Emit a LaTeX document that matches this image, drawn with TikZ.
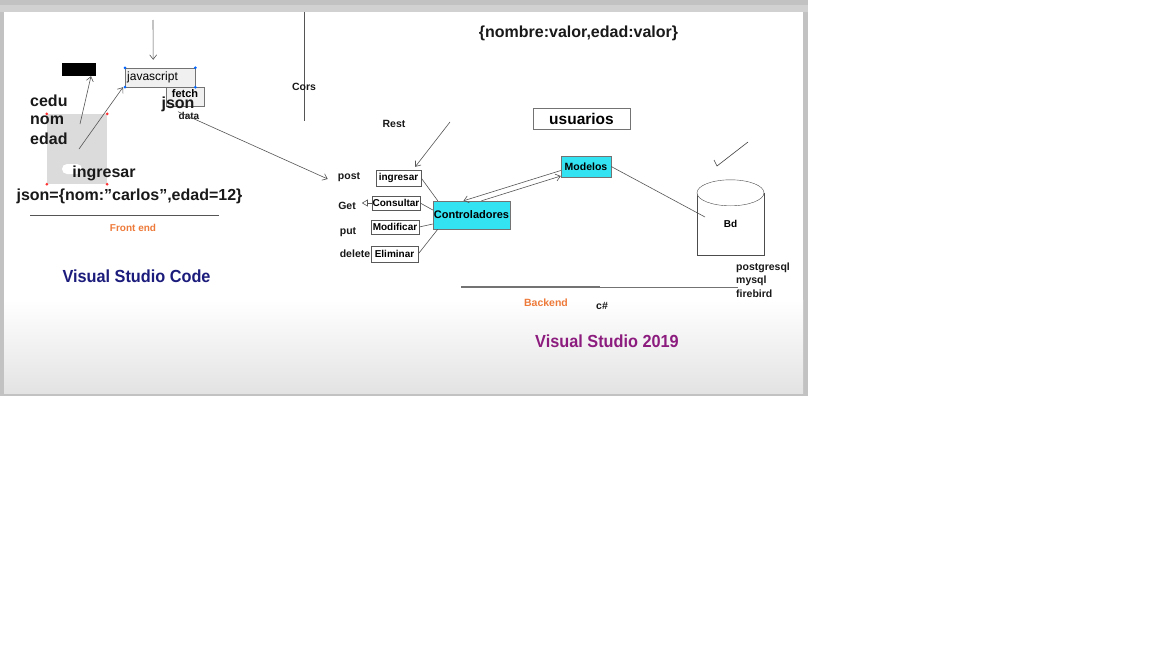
\documentclass[tikz,border=0pt]{standalone}
\usepackage{fontspec}
\setmainfont{Liberation Sans}
\newfontfamily\narrowfont[FakeStretch=0.93]{Liberation Sans}
\usetikzlibrary{positioning,arrows.meta}
\definecolor{boxcyan}{HTML}{33E3F2}
\definecolor{feorange}{HTML}{EE7A3A}
\definecolor{vsblue}{HTML}{1C1C7C}
\definecolor{vspurple}{HTML}{8C1C7E}
\definecolor{inkgray}{HTML}{555555}

\begin{document}
\begin{tikzpicture}[x=1pt,y=-1pt, >={Straight Barb[length=4.5pt, width=7pt]},
	big/.style={font=\bfseries\fontsize{16}{16}\selectfont, text=black!90, inner sep=0pt},
	lbl/.style={font=\bfseries\fontsize{10.5}{11}\selectfont, text=black!90, inner sep=0pt},
	epnode/.style={rectangle, draw=black!65, fill=white, font=\bfseries\fontsize{10}{10}\selectfont, inner sep=0.5pt, minimum height=15},
	cynode/.style={rectangle, draw=black!55, fill=boxcyan, inner sep=0.5pt},
	gbnode/.style={rectangle, draw=black!55, fill=black!6, inner sep=1.5pt},
	link/.style={draw=inkgray, line width=0.6pt},
	dot/.style={circle, fill=#1, inner sep=0pt, minimum size=3pt}]
	\useasboundingbox (0,0) rectangle (1152,648);
	\fill[white] (0,0) rectangle (1152,648);
	\fill[black!24] (0,0) rectangle (808,396);
	\fill[black!18] (0,5) rectangle (808,12);
	\fill[white] (4,12) rectangle (803,300);
	\shade[top color=white, bottom color=black!11] (4,300) rectangle (803,393);

	\node[rectangle, fill=black!14, minimum width=60, minimum height=70] (gbox) at (77,149) {};
	\node[rectangle, fill=white, rounded corners=5pt, minimum width=20, minimum height=10] (pill) at (72,169) {};
	\foreach \c in {north west, north east, south west, south east}
		\node[dot=red!80] at (gbox.\c) {};
	\node[rectangle, fill=black, minimum width=34, minimum height=13, inner sep=0pt] (blk) at (79,69.5) {};
	\node[big, anchor=west] (cedu) at (30,101) {cedu};
	\node[big, anchor=west] (nom) at (30,120) {nom};
	\node[big, anchor=west] (edad) at (30,139) {edad};
	\node[big] (ingresar) at (104,173) {ingresar};
	\node[big] (jsonval) at (129.5,196) {json=\{nom:”carlos”,edad=12\}};
	\node[lbl, text=feorange, font=\bfseries\fontsize{10}{10}\selectfont] (front) at (133,228) {Front end};
	\node[font=\narrowfont\bfseries\fontsize{17.5}{18}\selectfont, text=vsblue] (vscode) at (136.5,276) {Visual Studio Code};
	\draw[inkgray, line width=0.7pt] (30,215) -- (219,215);

	\node[gbnode, minimum width=38, minimum height=19, font=\bfseries\fontsize{11}{11}\selectfont, text depth=6pt] (fetch) at (185,96.5) {fetch};
	\node[gbnode, anchor=west, text width=66, minimum height=19, font=\fontsize{12}{12}\selectfont, inner sep=2pt] (js) at (125,77.5) {javascript};
	\foreach \c in {north west, north east, south west, south east}
		\node[dot=blue!60!cyan] at (js.\c) {};
	\node[big] (json) at (178,104) {json};
	\node[lbl, font=\bfseries\fontsize{10}{10}\selectfont] (data) at (189,116) {data};

	\coordinate (top) at (153,20);
	\coordinate (c1) at (80,124);
	\coordinate (c2) at (79,149);
	\draw[link, ->] (top) -- ([xshift=-7, yshift=8]js.north);
	\draw[link, ->] (c1) -- ([xshift=12]blk.south);
	\draw[link, ->] (c2) -- ([xshift=-2]js.south west);

	\draw[inkgray, line width=0.7pt] (304,12) -- (304,121);
	\node[lbl] (cors) at (304,87) {Cors};
	\node[lbl] (rest) at (394,124) {Rest};
	\coordinate (restin) at (450,122);

	\node[lbl] (post) at (349,177) {post};
	\node[lbl] (get) at (347,206) {Get};
	\node[lbl] (put) at (348,232) {put};
	\node[lbl] (delete) at (355,254) {delete};
	\node[epnode, minimum width=45, minimum height=16] (ing) at (398.5,178) {ingresar};
	\node[epnode, minimum width=48, minimum height=14] (cons) at (396,203) {Consultar};
	\node[epnode, minimum width=48, minimum height=14] (modif) at (395,227) {Modificar};
	\node[epnode, minimum width=47, minimum height=16] (elim) at (394.5,254) {Eliminar};
	\node[cynode, minimum width=77, minimum height=28, font=\bfseries\fontsize{11}{11}\selectfont] (ctrl) at (471.5,215) {Controladores};
	\node[cynode, minimum width=50, minimum height=21, font=\bfseries\fontsize{10.5}{11}\selectfont] (mod) at (586,166.5) {Modelos};
	\node[rectangle, draw=black!55, fill=white, minimum width=97, minimum height=21, inner sep=0pt, font=\bfseries\fontsize{15.5}{16}\selectfont] (usu) at (581.5,118.5) {usuarios};
	\node[big] (obj) at (578.5,33) {\{nombre:valor,edad:valor\}};

	\draw[link, ->] (json.south) -- ([xshift=-10, yshift=-2]post.west);
	\draw[link, ->] (restin) -- ([xshift=-6, yshift=3]ing.north east);
	\draw[link] (ing.east) -- ([xshift=5]ctrl.north west);
	\draw[link] (cons.east) -- ([yshift=5]ctrl.west);
	\draw[link] (modif.east) -- ([yshift=-9]ctrl.west);
	\draw[link] (elim.east) -- ([xshift=5]ctrl.south west);
	\draw[link, -{Triangle[open, length=6pt, width=7pt]}] (cons.west) -- ([xshift=-10]cons.west);
	\draw[link, ->] ([yshift=-4]mod.west) -- ([xshift=-8]ctrl.north);
	\draw[link, ->] ([xshift=10]ctrl.north) -- ([yshift=-9.5]mod.west);

	\node[rectangle, draw=black!70, minimum width=67, minimum height=62, inner sep=0pt, font=\bfseries\fontsize{10}{10}\selectfont] (bd) at (730.5,224) {Bd};
	\draw[black!70, fill=white] (bd.north) ellipse (33.5 and 13);
	\coordinate (bdin) at (705,217);
	\draw[link] (mod.east) -- (bdin);
	\draw[black!75, line width=0.6pt] (714,160) -- (717,166) -- (748,142);

	\node[lbl, anchor=west] (pg) at (736,268) {postgresql};
	\node[lbl, anchor=west] (my) at (736,281) {mysql};
	\node[lbl, anchor=west] (fb) at (736,294) {firebird};
	\draw[black!55, line width=1.4pt] (461,287) -- (600,287);
	\draw[black!55, line width=0.7pt] (600,287) -- (738,287);
	\node[lbl, text=feorange] (back) at (546,303) {Backend};
	\node[lbl] (csharp) at (602,306) {c\#};
	\node[font=\narrowfont\bfseries\fontsize{17.5}{18}\selectfont, text=vspurple] (vs19) at (607,341) {Visual Studio 2019};
\end{tikzpicture}
\end{document}
